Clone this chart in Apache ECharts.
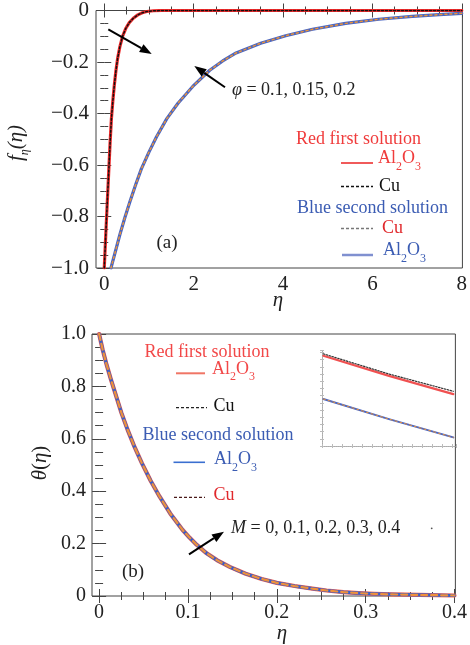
<!DOCTYPE html>
<html><head><meta charset="utf-8">
<script src="https://cdn.jsdelivr.net/npm/echarts@6/dist/echarts.min.js"></script>
<style>html,body{margin:0;padding:0;background:#fff}#c{width:470px;height:645px}</style>
</head><body><div id="c"></div>
<script>
// ---- Panel (a): f_eta(eta) ----
const etaFirst = [0, 0.035, 0.07, 0.10, 0.13, 0.16, 0.19, 0.225, 0.26, 0.30, 0.35, 0.41, 0.48, 0.56, 0.65, 0.75, 0.85, 0.95, 1.1, 1.3, 8];
const fFirst   = [-1, -0.865, -0.735, -0.625, -0.515, -0.42, -0.355, -0.29, -0.235, -0.185, -0.14, -0.10, -0.07, -0.047, -0.03, -0.017, -0.009, -0.004, -0.001, 0, 0];
const etaSecond = [0.15, 0.25, 0.35, 0.46, 0.57, 0.70, 0.83, 1.0, 1.17, 1.4, 1.65, 1.98, 2.36, 2.65, 2.95, 3.5, 4.06, 4.66, 5.4, 6.14, 6.89, 7.5, 8.0];
const fSecond   = [-1, -0.935, -0.87, -0.805, -0.745, -0.678, -0.615, -0.55, -0.49, -0.42, -0.36, -0.295, -0.232, -0.196, -0.165, -0.127, -0.098, -0.073, -0.05, -0.034, -0.023, -0.016, -0.011];
const xTicksA = [0, 2, 4, 6, 8];
const yTicksA = [0, -0.2, -0.4, -0.6, -0.8, -1.0];

// ---- Panel (b): theta(eta) ----
const etaTheta = [0, 0.004, 0.008, 0.013, 0.019, 0.025, 0.032, 0.04, 0.048, 0.058, 0.068, 0.08, 0.094, 0.102, 0.110, 0.121, 0.133, 0.147, 0.165, 0.183, 0.2, 0.22, 0.24, 0.256, 0.275, 0.292, 0.31, 0.33, 0.36, 0.4];
const theta    = [1, 0.94, 0.888, 0.83, 0.765, 0.70, 0.635, 0.568, 0.508, 0.44, 0.38, 0.315, 0.252, 0.222, 0.195, 0.163, 0.136, 0.111, 0.085, 0.065, 0.05, 0.038, 0.028, 0.021, 0.015, 0.011, 0.008, 0.006, 0.004, 0.002];
const xTicksB = [0, 0.1, 0.2, 0.3, 0.4];
const yTicksB = [0, 0.2, 0.4, 0.6, 0.8, 1.0];

// ---- Inset of panel (b) ----
const insetX     = [0.01, 0.5, 0.98];
const insetRed   = [0.94, 0.73, 0.54];
const insetBlack = [0.96, 0.75, 0.57];
const insetBlue  = [0.49, 0.28, 0.09];

const FONT = 'Liberation Serif';
const RED = '#f03c3c', BLUE = '#3b5cb3';

function minorOf(major, n) {
  const out = [];
  for (let i = 0; i < major.length - 1; i++) {
    const a = major[i], b = major[i + 1];
    for (let k = 1; k < n; k++) out.push(+(a + (b - a) * k / n).toFixed(6));
  }
  return out;
}
function frameAxes(dim, grid, min, max, major, minor, fmt, margin, fs) {
  const pos = dim === 'x' ? ['bottom', 'top'] : ['left', 'right'];
  const mk = (p, vals, len, label) => ({
    type: 'value', gridIndex: grid, min, max, position: p,
    axisLine: { show: false }, splitLine: { show: false },
    axisTick: { show: true, inside: true, length: len, customValues: vals, lineStyle: { color: '#444', width: 1 } },
    axisLabel: label ? { show: true, customValues: major, formatter: fmt, fontFamily: FONT, fontSize: fs, color: '#222', margin } : { show: false }
  });
  return [mk(pos[0], major, 7, true), mk(pos[0], minor, 4, false), mk(pos[1], major, 7, false), mk(pos[1], minor, 4, false)];
}
const fmtNeg = v => v === 0 ? '0' : '\u2212' + Math.abs(v).toFixed(1);
const fmtPos = v => v === 0 ? '0' : v.toFixed(1);
const fmtInt = v => String(v);

const xAxes = [
  ...frameAxes('x', 0, -0.185, 8.015, xTicksA, minorOf(xTicksA, 4), fmtInt, 6, 21),
  ...frameAxes('x', 1, -0.008, 0.401, xTicksB, minorOf(xTicksB, 4), fmtPos, 7, 20)
];
const yAxes = [
  ...frameAxes('y', 0, -1, 0, yTicksA, minorOf(yTicksA, 4), fmtNeg, 7, 21),
  ...frameAxes('y', 1, 0, 1, yTicksB, minorOf(yTicksB, 4), fmtPos, 6, 20)
];
function insetAxis(p) {
  return { type: 'value', gridIndex: 2, min: 0, max: 1, interval: 0.075, position: p,
    axisLine: { show: true, lineStyle: { color: '#aaa', type: 'dotted', width: 1 } },
    splitLine: { show: false }, axisLabel: { show: false },
    axisTick: { show: true, inside: true, length: 2, lineStyle: { color: '#bbb' } } };
}
const IX = xAxes.length, IY = yAxes.length;
xAxes.push(insetAxis('bottom'), insetAxis('top'));
yAxes.push(insetAxis('left'), insetAxis('right'));

const pairs = (xs, ys) => xs.map((x, i) => [x, ys[i]]);
function line(xi, yi, xs, ys, color, width, type, z) {
  return { type: 'line', xAxisIndex: xi, yAxisIndex: yi, data: pairs(xs, ys), showSymbol: false, symbol: 'none',
    smooth: false, z: z, silent: true, animation: false,
    lineStyle: { color, width, type, join: 'round', cap: 'round' } };
}

function arrow(x1, y1, x2, y2) {
  const a = Math.atan2(y2 - y1, x2 - x1), L = 12, W = 4.5;
  const bx = x2 - L * Math.cos(a), by = y2 - L * Math.sin(a);
  const px = -Math.sin(a), py = Math.cos(a);
  return [
    { type: 'line', z: 100, shape: { x1, y1, x2: bx, y2: by }, style: { stroke: '#000', lineWidth: 2 } },
    { type: 'polygon', z: 100, shape: { points: [[x2, y2], [bx + W * px, by + W * py], [bx - W * px, by - W * py]] }, style: { fill: '#000' } }
  ];
}
function txt(x, y, text, color, size, extra) {
  return { type: 'text', z: 100, x, y, style: Object.assign({ text, fill: color, fontFamily: FONT, fontSize: size, textAlign: 'left', textVerticalAlign: 'middle' }, extra || {}) };
}
function al2o3(x, y, color) {
  return { type: 'text', z: 100, x, y, style: {
    text: '{a|Al}{s|2}{a|O}{s|3}', textAlign: 'left', textVerticalAlign: 'middle',
    rich: {
      a: { fill: color, fontFamily: FONT, fontSize: 18, padding: [0, 0, 5, 0], verticalAlign: 'bottom' },
      s: { fill: color, fontFamily: FONT, fontSize: 12, verticalAlign: 'bottom' }
    } } };
}
function seg(x1, y1, x2, y2, color, w, dash) {
  return { type: 'line', z: 100, shape: { x1, y1, x2, y2 }, style: { stroke: color, lineWidth: w, lineDash: dash || null } };
}

const graphics = [
  // panel (a)
  ...arrow(108.3, 29.3, 151.7, 54),
  ...arrow(225, 87.3, 194.3, 66),
  { type: 'text', z: 100, x: 232, y: 90, style: { text: '{i|\u03c6} = 0.1, 0.15, 0.2', fill: '#222', fontFamily: FONT, fontSize: 18, textVerticalAlign: 'middle',
      rich: { i: { fontStyle: 'italic', fontFamily: FONT, fontSize: 18, fill: '#222' } } } },
  txt(296, 139, 'Red first solution', RED, 18),
  seg(341, 163, 373, 163, '#f05a5a', 2),
  al2o3(378, 161, RED),
  seg(341, 186.5, 373, 186.5, '#111', 1.3, [3, 2]),
  txt(379, 186, 'Cu', '#111', 18),
  txt(297, 208, 'Blue second solution', BLUE, 18),
  seg(341, 228.5, 373, 228.5, '#777', 1.3, [3, 2]),
  txt(382, 228, 'Cu', '#e0282c', 18),
  seg(342, 255, 373, 255, '#8090d0', 2.5),
  al2o3(383, 253, BLUE),
  txt(167, 243, '(a)', '#222', 19, { textAlign: 'center' }),
  { type: 'text', z: 100, x: 18, y: 143, rotation: Math.PI / 2, style: { text: '{i|f}{s|\u03b7}{i|(\u03b7)}', textAlign: 'center', textVerticalAlign: 'middle',
      rich: { i: { fontFamily: FONT, fontStyle: 'italic', fontSize: 21, fill: '#222', padding: [0, 0, 4, 0], verticalAlign: 'bottom' },
              s: { fontFamily: FONT, fontStyle: 'italic', fontSize: 12, fill: '#222', verticalAlign: 'bottom' } } } },
  txt(278, 300, '\u03b7', '#222', 21, { textAlign: 'center', fontStyle: 'italic' }),
  // panel (b)
  txt(144.5, 352, 'Red first solution', '#f24848', 18),
  seg(176, 373.3, 205, 373.3, '#f07565', 2),
  al2o3(212, 371.5, '#f24848'),
  seg(176, 407.7, 207, 407.7, '#222', 1.3, [3, 2]),
  txt(213.5, 406.7, 'Cu', '#111', 18),
  txt(142.5, 435, 'Blue second solution', BLUE, 18),
  seg(173.5, 462.3, 205, 462.3, '#3a6fd0', 1.6),
  al2o3(214, 462, BLUE),
  seg(174, 497.3, 205, 497.3, '#4a1a1a', 1.3, [3, 2]),
  txt(213.5, 495.5, 'Cu', '#e0282c', 18),
  ...arrow(189, 554.3, 224, 531.7),
  { type: 'text', z: 100, x: 231, y: 528.5, style: { text: '{i|M} = 0, 0.1, 0.2, 0.3, 0.4', fill: '#222', fontFamily: FONT, fontSize: 18, textVerticalAlign: 'middle',
      rich: { i: { fontStyle: 'italic', fontFamily: FONT, fontSize: 18, fill: '#222' } } } },
  { type: 'circle', z: 100, shape: { cx: 431.7, cy: 528.3, r: 0.9 }, style: { fill: '#555' } },
  txt(133, 572, '(b)', '#222', 19, { textAlign: 'center' }),
  { type: 'text', z: 100, x: 40, y: 463, rotation: Math.PI / 2, style: { text: '{i|\u03b8}({i|\u03b7})', fill: '#222', fontFamily: FONT, fontSize: 21, textAlign: 'center', textVerticalAlign: 'middle',
      rich: { i: { fontFamily: FONT, fontStyle: 'italic', fontSize: 21, fill: '#222' } } } },
  txt(282, 633, '\u03b7', '#222', 21, { textAlign: 'center', fontStyle: 'italic' })
];

const option = {
  animation: false,
  backgroundColor: '#fff',
  grid: [
    { left: 96, top: 7, width: 368, height: 261, show: true, borderColor: '#444', borderWidth: 1, backgroundColor: 'transparent' },
    { left: 92, top: 334, width: 374, height: 262, show: true, borderColor: '#444', borderWidth: 1, backgroundColor: 'transparent' },
    { left: 322, top: 350, width: 134, height: 96, show: false }
  ],
  xAxis: xAxes,
  yAxis: yAxes,
  series: [
    line(0, 0, etaFirst, fFirst, '#ee2a2a', 3.2, 'solid', 2),
    line(0, 0, etaFirst, fFirst, '#111', 1.5, [2, 2], 3),
    line(0, 0, etaSecond, fSecond, '#4a66c2', 3.2, 'solid', 2),
    line(0, 0, etaSecond, fSecond, '#e8923a', 1.5, [2, 3], 3),
    line(4, 4, etaTheta, theta, '#f06050', 4.2, 'solid', 1),
    line(4, 4, etaTheta, theta, '#3a5fc8', 3.2, 'solid', 2),
    line(4, 4, etaTheta, theta, '#f0903a', 2.2, [6, 4], 3),
    line(IX, IY, insetX, insetRed, '#f05050', 2.2, 'solid', 2),
    line(IX, IY, insetX, insetBlack, '#333', 1.2, [1.5, 1.5], 3),
    line(IX, IY, insetX, insetBlue, '#4a66c2', 2, 'solid', 2),
    line(IX, IY, insetX, insetBlue, '#e8923a', 1, [2, 3], 3)
  ],
  graphic: graphics
};
const chart = echarts.init(document.getElementById('c'), null, { renderer: 'canvas' });
chart.setOption(option);
</script>
</body></html>
